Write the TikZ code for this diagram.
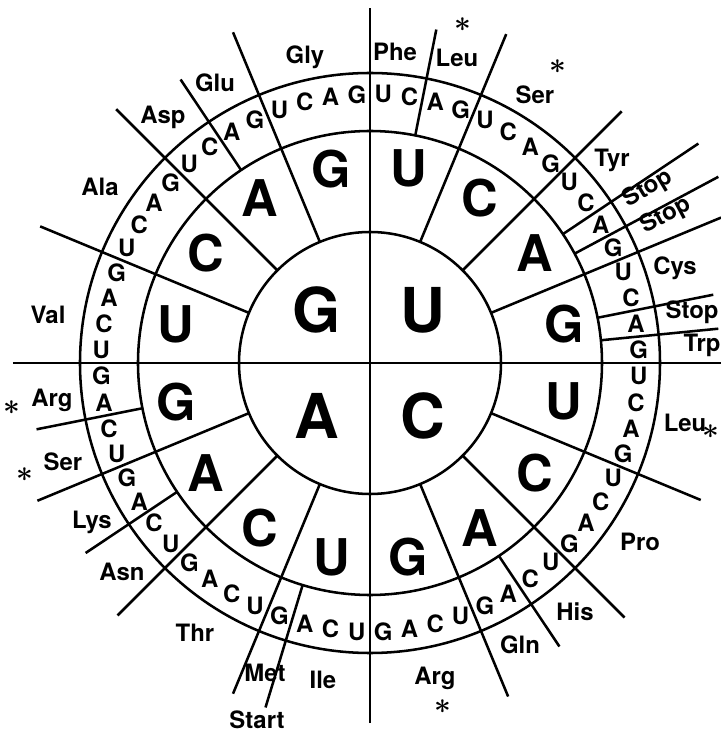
\documentclass[tikz,border=0pt]{standalone}
\usepackage{fontspec}
\setmainfont{TeX Gyre Heros}

\begin{document}
\begin{tikzpicture}[x=0.025cm,y=0.025cm,line width=1.8pt,
  first/.style={font=\fontsize{44}{44}\selectfont\bfseries,inner sep=0pt},
  second/.style={font=\fontsize{36}{36}\selectfont\bfseries,inner sep=0pt},
  third/.style={font=\fontsize{17}{17}\selectfont\bfseries,inner sep=0pt},
  amino/.style={font=\fontsize{17}{17}\selectfont\bfseries,inner sep=0pt},
  asterisk/.style={font=\fontsize{22}{22}\selectfont\boldmath,inner sep=0pt}
]
\useasboundingbox (-370,-373) rectangle (351,363);
\draw (0,0) circle (131) (0,0) circle (232) (0,0) circle (290);
\draw (-357,0) -- (351,0) (0,-360) -- (0,355);
\foreach \k/\r in {4/356,8/356,12/380,20/358,24/360,28/361,36/358,40/357,44/360,52/357,56/359,60/358}
  \draw ({90-\k*5.625}:131) -- ({90-\k*5.625}:\r);
\foreach \k/\r in {2/340,10/395,11/395,14/350,15/350,26/341,35/360,42/342,46/340,58/341}
  \draw ({90-\k*5.625}:232) -- ({90-\k*5.625}:\r);
\foreach \b/\a in {U/45,C/-45,A/-135,G/135}
  \node[first] (f\b) at (\a:75) {\b};
\foreach \q in {0,...,3}
  \foreach \b [count=\j from 0] in {U,C,A,G}
    \node[second] (s\q\j) at ({90-(4*\q+\j+0.5)*22.5}:198) {\b};
\foreach \q in {0,...,3}
  \foreach \j in {0,...,3}
    \foreach \b [count=\i from 0] in {U,C,A,G}
      \node[third] (t\q\j\i) at ({90-(16*\q+4*\j+\i+0.5)*5.625}:269) {\b};
\node[amino] (phe) at (25,311) {Phe};
\node[amino] (leua) at (87,305) {Leu};
\node[amino] (sera) at (165,268) {Ser};
\node[amino] (tyr) at (242,203) {Tyr};
\node[amino,rotate=31] (stopa) at (278,174) {Stop};
\node[amino,rotate=28] (stopb) at (296,147) {Stop};
\node[amino] (cys) at (305,95) {Cys};
\node[amino] (stopc) at (322,51) {Stop};
\node[amino] (trp) at (332,18) {Trp};
\node[amino] (leub) at (315,-60) {Leu};
\node[amino] (pro) at (270,-179) {Pro};
\node[amino] (his) at (205,-249) {His};
\node[amino] (gln) at (150,-282) {Gln};
\node[amino] (arga) at (65,-315) {Arg};
\node[amino] (ile) at (-47,-317) {Ile};
\node[amino] (met) at (-105,-310) {Met};
\node[amino] (start) at (-113,-357) {Start};
\node[amino] (thr) at (-175,-270) {Thr};
\node[amino] (asn) at (-248,-209) {Asn};
\node[amino] (lys) at (-278,-159) {Lys};
\node[amino] (serb) at (-307,-99) {Ser};
\node[amino] (argb) at (-318,-37) {Arg};
\node[amino] (val) at (-322,48) {Val};
\node[amino] (ala) at (-270,176) {Ala};
\node[amino] (asp) at (-207,246) {Asp};
\node[amino] (glu) at (-155,280) {Glu};
\node[amino] (gly) at (-65,306) {Gly};
\node[asterisk] (ast1) at (93,338) {$\ast$};
\node[asterisk] (ast2) at (188,296) {$\ast$};
\node[asterisk] (ast3) at (341,-69) {$\ast$};
\node[asterisk] (ast4) at (73,-344) {$\ast$};
\node[asterisk] (ast5) at (-358,-45) {$\ast$};
\node[asterisk] (ast6) at (-345,-112) {$\ast$};
\end{tikzpicture}
\end{document}
